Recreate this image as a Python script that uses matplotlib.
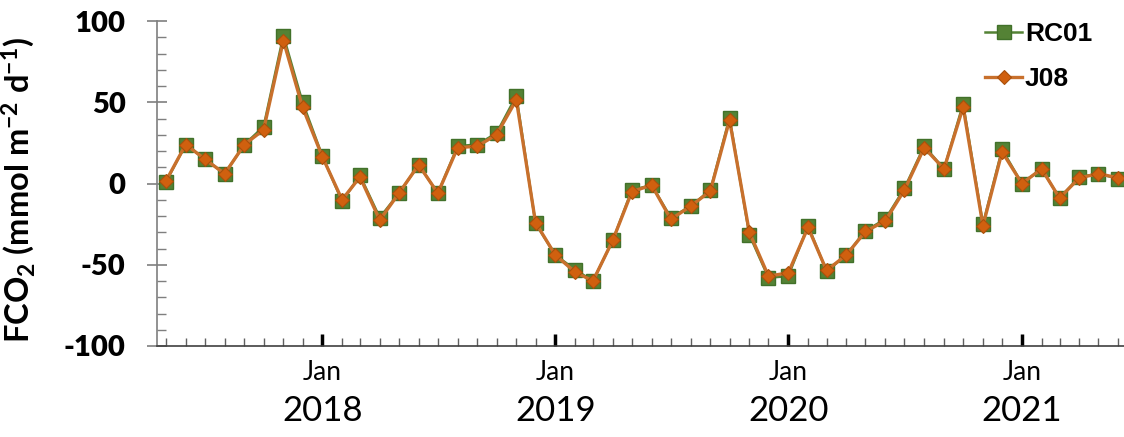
import numpy as np
import pandas as pd
import matplotlib
matplotlib.use("Agg")
from matplotlib import pyplot as plt
import matplotlib.dates as mdates
import matplotlib.transforms as mtransforms

# monthly FCO2, May 2017 - Jun 2021
months = pd.date_range("2017-05-01", periods=50, freq="MS")
rc01 = [1, 24, 15, 6, 24, 35, 91, 50,
        17, -11, 5, -21, -6, 11.5, -6, 23, 24, 31, 54, -24.5,
        -44, -53, -60, -35, -4, -1, -21, -14, -4, 40.5, -31.5, -58,
        -57, -26, -54, -44, -29, -22, -3, 23, 9, 49, -25, 21,
        0, 9, -9, 4, 6, 3]
j08 = [1.5, 24, 15, 6, 24, 33, 88, 47,
       16.5, -10, 4, -22.5, -6, 11.5, -6, 22, 23, 30, 51.5, -24,
       -44, -54.5, -60, -35, -5, -1, -22, -14, -4.6, 39, -30, -57,
       -55, -27, -53.5, -44, -29.5, -23, -4, 22, 9, 47, -26, 19.5,
       0, 9, -9, 3.5, 6, 3.5]
years = [2018, 2019, 2020, 2021]

plt.rcParams['axes.unicode_minus'] = False
plt.rcParams['mathtext.fontset'] = 'custom'
plt.rcParams['mathtext.rm'] = 'Lato:bold'
plt.rcParams['mathtext.bf'] = 'Lato:bold'
plt.rcParams['mathtext.it'] = 'Lato:bold'

fig = plt.figure(figsize=(11.24, 4.37), dpi=100)
ax = fig.add_axes([157/1124, 91/437, 967/1124, 325/437])

ax.plot(months, rc01, color='#548235', lw=1.8, marker='s', ms=10.5,
        mfc='#548235', mec='#41712a', mew=1.0, label='RC01', zorder=3)
ax.plot(months, j08, color='#c8702c', lw=2.4, marker='D', ms=7,
        mfc='#d0600f', mec='#a9500c', mew=0.8, label='J08', zorder=4)

ax.set_ylim(-100, 100)
ax.set_xlim(pd.Timestamp("2017-04-17"), pd.Timestamp("2021-06-10"))

for s in ['top', 'right']:
    ax.spines[s].set_visible(False)
ax.spines['left'].set_color('#7f7f7f')
ax.spines['bottom'].set_color('#404040')
ax.spines['left'].set_linewidth(1.2)
ax.spines['bottom'].set_linewidth(1.2)

ax.set_yticks([-100, -50, 0, 50, 100])
ax.set_yticks(np.arange(-100, 101, 10), minor=True)
ax.tick_params(axis='y', which='major', direction='inout', length=15, width=1.2,
               color='#7f7f7f', pad=15, labelsize=21)
ax.tick_params(axis='y', which='minor', direction='in', length=6.5, width=1.0,
               color='#7f7f7f')
for lab in ax.get_yticklabels():
    lab.set_fontfamily('Lato')
    lab.set_fontweight('heavy')

ax.xaxis.set_major_locator(mdates.MonthLocator(bymonth=1))
ax.xaxis.set_minor_locator(mdates.MonthLocator())
ax.xaxis.set_major_formatter(mdates.DateFormatter('%b'))
ax.tick_params(axis='x', which='major', direction='in', length=9, width=2.5,
               color='black', pad=10, labelsize=19)
ax.tick_params(axis='x', which='minor', direction='in', length=6, width=1.0,
               color='#606060')
for lab in ax.get_xticklabels():
    lab.set_fontfamily('Lato')

trans = mtransforms.blended_transform_factory(ax.transData, ax.transAxes)
for yr in years:
    ax.text(pd.Timestamp(f"{yr}-01-01"), -0.2, str(yr), transform=trans,
            ha='center', va='center', fontsize=25, family='Lato')

ax.set_ylabel(r'FCO$_\mathbf{2}$ (mmol m$^\mathbf{-2}$ d$^\mathbf{-1}$)',
              fontsize=23.5, fontweight='bold', family='Lato')
ax.yaxis.set_label_coords(-0.124, 0.48)

leg = ax.legend(loc='upper right', bbox_to_anchor=(0.978, 1.03),
                frameon=False, handlelength=1.4, handletextpad=0.1,
                labelspacing=0.8, borderaxespad=0,
                prop={'family': 'Liberation Sans', 'weight': 'bold', 'size': 19})

fig.savefig('out.png', dpi=100)
